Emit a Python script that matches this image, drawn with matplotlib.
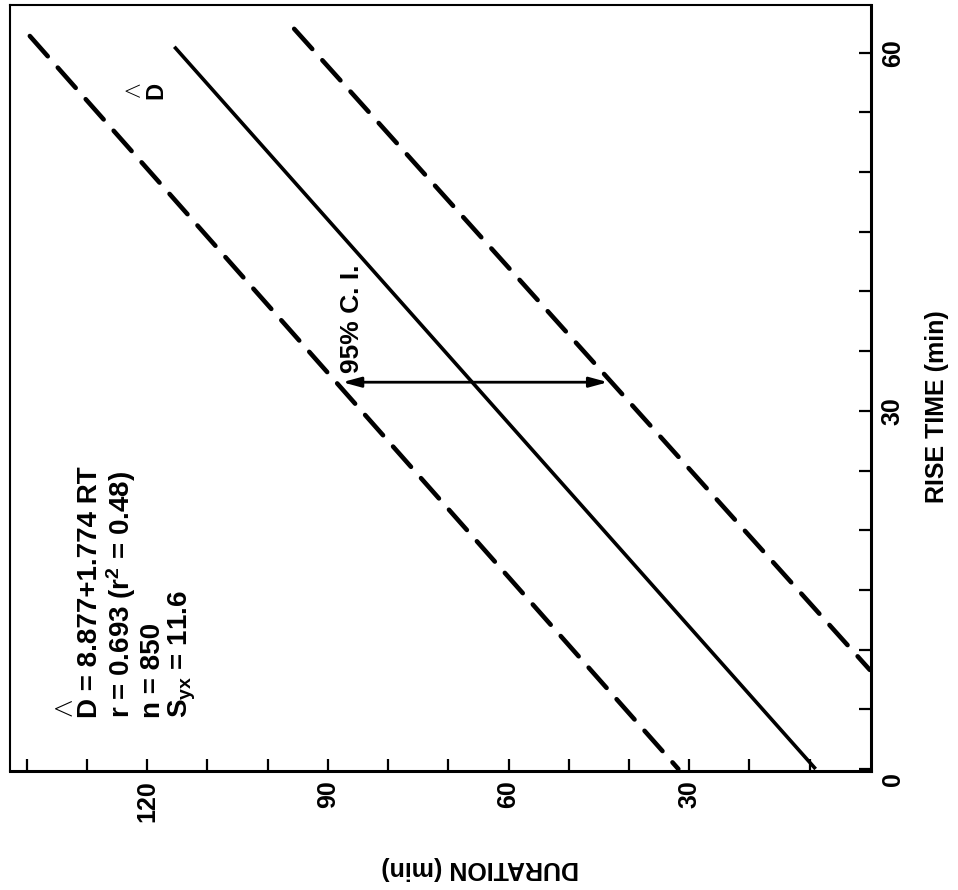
import matplotlib
matplotlib.use('Agg')
import matplotlib.pyplot as plt
from matplotlib.transforms import ScaledTranslation

plt.rcParams['font.family'] = ['Liberation Sans', 'DejaVu Sans']
plt.rcParams['font.weight'] = 'bold'
plt.rcParams['mathtext.fontset'] = 'custom'
plt.rcParams['mathtext.rm'] = 'Liberation Sans:bold'
plt.rcParams['mathtext.it'] = 'Liberation Sans:bold'
plt.rcParams['mathtext.bf'] = 'Liberation Sans:bold'

# regression line and 95% confidence band (rise time in min, duration in min)
rise_fit = [60.5, 0.0]
dur_fit = [115.5, 9.0]
rise_upper = [61.4, 0.0]
dur_upper = [139.5, 31.8]
rise_lower = [62.0, 8.3]
dur_lower = [95.6, 0.0]

# confidence interval arrow at RT ~ 32
ci_rise = 32.4
ci_dur = [87.6, 43.5]

dur_ticks = [10, 20, 30, 40, 50, 60, 70, 80, 90, 100, 110, 120, 130, 140]
dur_labels = ['', '', '30', '', '', '60', '', '', '90', '', '', '120', '', '']
rise_ticks = [0, 5, 10, 15, 20, 25, 30, 35, 40, 45, 50, 55, 60]
rise_labels = ['0', '', '', '', '', '', '30', '', '', '', '', '', '60']

stats_lines = ['r = 0.693 (r$^{2}$ = 0.48)',
               'n = 850',
               'S$_{\\rm yx}$ = 11.6']
stats_dur = [124.4, 119.1, 114.1]

fig = plt.figure(figsize=(9.58, 8.90), dpi=100)
# chart is drawn turned a quarter turn: duration runs right-to-left along the bottom,
# rise time runs upward on the right side
ax = fig.add_axes([0.0104, 0.1337, 0.8988, 0.8607])
ax.set_xlim(142.8, -0.2)
ax.set_ylim(-0.17, 64.0)

ax.plot(dur_fit, rise_fit, color='black', lw=2.6, solid_capstyle='butt')
ax.plot(dur_upper, rise_upper, color='black', lw=3.3, linestyle=(0, (5.9, 3.3)),
        dash_capstyle='round')
ax.plot(dur_lower, rise_lower, color='black', lw=3.3, linestyle=(0, (5.9, 3.3)),
        dash_capstyle='round')

ax.annotate('', xy=(ci_dur[1], ci_rise), xytext=(ci_dur[0], ci_rise),
            arrowprops=dict(arrowstyle='<|-|>,head_length=0.55,head_width=0.15',
                            lw=2, color='black', shrinkA=0, shrinkB=0,
                            mutation_scale=20))
ax.text(86.0, 33.2, '95% C. I.', rotation=90, rotation_mode='anchor',
        ha='left', va='center', fontsize=19)

# D-hat label next to regression line
ax.text(120.4, 56.1, '$\\wedge$\nD', rotation=90, rotation_mode='anchor',
        ha='left', va='center', fontsize=17, linespacing=1.0)

# regression statistics
ax.text(131.6, 4.27, '$\\wedge$\nD = 8.877+1.774 RT', rotation=90, rotation_mode='anchor',
        ha='left', va='center', fontsize=20, linespacing=0.95)
for txt, d in zip(stats_lines, stats_dur):
    ax.text(d, 4.27, txt, rotation=90, rotation_mode='anchor',
            ha='left', va='center', fontsize=20)

ax.set_xticks(dur_ticks)
ax.set_xticklabels(dur_labels, rotation=90, fontsize=18)
ax.yaxis.tick_right()
ax.set_yticks(rise_ticks)
ax.set_yticklabels(rise_labels, rotation=90, va='center', fontsize=18)
ax.tick_params(axis='both', direction='in', length=8.5, width=1.6, pad=7)
ax.tick_params(axis='x', top=False)
ax.tick_params(axis='y', left=False)

# the 0 of the rise-time scale sits a little below the corner
zero_lbl = ax.get_yticklabels()[0]
zero_lbl.set_transform(zero_lbl.get_transform() + ScaledTranslation(0, -0.1, fig.dpi_scale_trans))

ax.spines['right'].set_linewidth(2.2)
ax.spines['bottom'].set_linewidth(2.2)
ax.spines['left'].set_linewidth(1.5)
ax.spines['top'].set_linewidth(1.5)

fig.text(0.501, 0.025, 'DURATION (min)', rotation=180, ha='center', va='center', fontsize=18)
fig.text(0.978, 0.543, 'RISE TIME (min)', rotation=90, ha='center', va='center', fontsize=18)

fig.savefig('out.png', dpi=100)
